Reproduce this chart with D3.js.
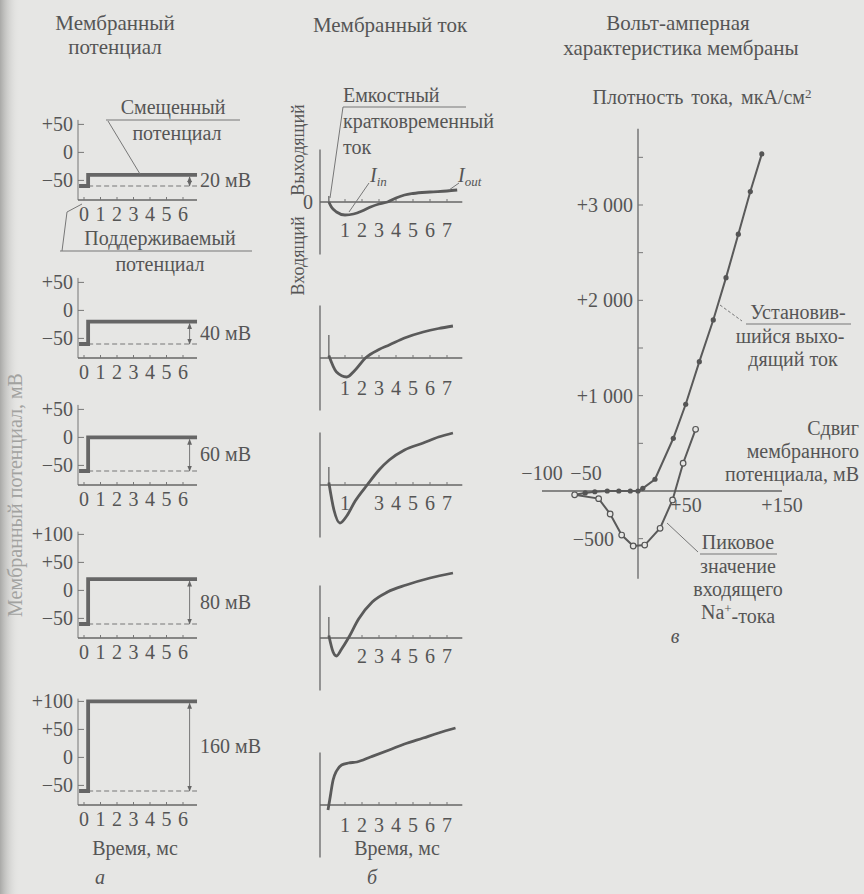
<!DOCTYPE html>
<html>
<head>
<meta charset="utf-8"/>
<style>
  body{margin:0;background:#e6e6e4;}
  svg{display:block;}
  text{font-family:"Liberation Serif","DejaVu Serif",serif;fill:#555;font-size:20px;}
  .tk{font-size:20px;}
  .ttl{font-size:21px;}
  .ax{stroke:#666;stroke-width:1.3;fill:none;}
  .thin{stroke:#777;stroke-width:1;fill:none;}
  .thick{stroke:#666;stroke-width:3.8;fill:none;}
  .curve{stroke:#5a5a5a;stroke-width:2.8;fill:none;}
  .dash{stroke:#777;stroke-width:1.1;stroke-dasharray:5,3;fill:none;}
  .lead{stroke:#777;stroke-width:1;fill:none;}
  .it{font-style:italic;}
</style>
</head>
<body>
<svg id="fig" width="864" height="894"></svg>
<script src="https://d3js.org/d3.v7.min.js"></script>
<script>
// ---- data: voltage clamp steps (column a)
const timeTicks = [0,1,2,3,4,5,6];
const holdingMV = -60;
const stepMV = [20,40,60,80,160];
const potTicks = [[50,0,-50],[50,0,-50],[50,0,-50],[100,50,0,-50],[100,50,0,-50]];

// ---- data: membrane currents, [ms, relative current] (column b)
const curTimeTicks = [[1,2,3,4,5,6,7],[1,2,3,4,5,6,7],[1,3,4,5,6,7],[2,3,4,5,6,7],[1,2,3,4,5,6,7]];
const capSpike = [0.12,0.46,0.36,0.42,0];
const cur20  = [[0.05,0],[0.2,-0.1],[0.5,-0.2],[1,-0.26],[1.5,-0.24],[2,-0.18],[2.5,-0.1],[3,-0.04],[3.5,0],[4,0.08],[4.5,0.14],[5,0.17],[6,0.2],[7,0.22],[7.6,0.24]];
const cur40  = [[0.05,0.05],[0.5,-0.28],[1.1,-0.38],[1.6,-0.24],[2.2,0],[3,0.17],[3.6,0.26],[4.5,0.4],[5.6,0.52],[6.5,0.59],[7.35,0.64]];
const cur60  = [[0.05,0.05],[0.35,-0.5],[0.7,-0.76],[1.1,-0.62],[1.6,-0.32],[2.3,0],[3,0.3],[3.6,0.5],[4.5,0.7],[5.6,0.84],[6.5,0.96],[7.35,1.04]];
const cur80  = [[0.05,0.05],[0.3,-0.28],[0.5,-0.36],[0.8,-0.22],[1.2,0],[1.8,0.38],[2.6,0.72],[3.5,0.92],[4.6,1.06],[6,1.2],[7.35,1.3]];
const cur160 = [[0,-0.1],[0.1,0.1],[0.3,0.5],[0.5,0.68],[0.8,0.8],[1.2,0.84],[1.7,0.86],[2.5,0.96],[3.6,1.1],[4.5,1.22],[5.6,1.34],[6.5,1.44],[7.5,1.54]];
const currents = [cur20,cur40,cur60,cur80,cur160];

// ---- data: I-V relation, [mV shift, µA/cm2] (column c)
const steadyOut = [[-66,-40],[-55,-20],[-45,-8],[-32,0],[-20,0],[-8,0],[0,0],[5,28],[17.7,123],[36.8,553],[49.7,910],[63.9,1357],[78.4,1794],[91.7,2238],[104.5,2694],[117,3141],[129,3536]];
const peakIn = [[-66,-40],[-41,-80],[-29,-241],[-17,-462],[-5,-577],[7,-567],[23,-391],[36,-94],[47,291],[60,647]];
const ivYTicks = [3000,2000,1000,-500];
const ivYMinor = [-500,0,500,1000,1500,2000,2500,3000,3500];
const ivXNeg = [-100,-50];
const ivXPos = [50,150];

const svg = d3.select('#fig');
const defs = svg.append('defs');
const grad = defs.append('linearGradient').attr('id','shade');
grad.append('stop').attr('offset','0').attr('stop-color','#a9a9a7');
grad.append('stop').attr('offset','1').attr('stop-color','#e6e6e4').attr('stop-opacity',0);
defs.append('marker').attr('id','arr').attr('viewBox','0 0 10 10').attr('refX',9).attr('refY',5)
  .attr('markerWidth',6).attr('markerHeight',6).attr('orient','auto-start-reverse')
  .append('path').attr('d','M0,1 L10,5 L0,9 z').attr('fill','#666');

svg.append('rect').attr('width',864).attr('height',894).attr('fill','#e6e6e4');
svg.append('rect').attr('width',20).attr('height',894).attr('fill','url(#shade)');

const fmt = v => v > 0 ? '+' + v : (v < 0 ? '\u2212' + Math.abs(v) : '0');
function txt(g, x, y, s, anchor, cls){
  return g.append('text').attr('x',x).attr('y',y).attr('dy','0.35em')
    .attr('text-anchor',anchor || 'middle').attr('class',cls || null).text(s);
}

// ================= column a: membrane potential
const colA = svg.append('g');
txt(colA,115,23,'Мембранный','middle','ttl');
txt(colA,115,47,'потенциал','middle','ttl');
const potBottom = [200,358,485,638,805];
const potTop = [58,58,58,105,105];
const xT = d3.scaleLinear().domain([0,6]).range([84,183]);
stepMV.forEach(function(dv,i){
  const y = d3.scaleLinear().domain([-85,0]).range([potBottom[i], potBottom[i]-47.6]);
  const g = colA.append('g');
  const line = d3.line().x(d => xT(d[0])).y(d => y(d[1]));
  g.append('line').attr('class','thin').attr('x1',78).attr('x2',78).attr('y1',y(-85)).attr('y2',y(potTop[i]));
  g.append('line').attr('class','ax').attr('x1',78).attr('x2',197).attr('y1',y(-85)).attr('y2',y(-85));
  potTicks[i].forEach(function(v){
    g.append('line').attr('class','thin').attr('x1',78).attr('x2',84).attr('y1',y(v)).attr('y2',y(v));
    txt(g,73,y(v),fmt(v),'end','tk');
  });
  timeTicks.forEach(function(t){
    g.append('line').attr('class','thin').attr('x1',xT(t)).attr('x2',xT(t)).attr('y1',y(-85)).attr('y2',y(-85)-3);
    txt(g,xT(t),y(-85)+14,t,'middle','tk');
  });
  const level = holdingMV + dv;
  g.append('path').attr('class','dash').attr('d',line([[0.25,holdingMV],[6.85,holdingMV]]));
  g.append('path').attr('class','thick').attr('d',line([[-0.3,holdingMV],[0.25,holdingMV],[0.25,level],[6.85,level]]));
  g.append('line').attr('class','lead').attr('x1',xT(6.4)).attr('x2',xT(6.4))
    .attr('y1',y(holdingMV)).attr('y2',y(level)+2)
    .attr('marker-start','url(#arr)').attr('marker-end','url(#arr)');
  txt(g,200,(y(holdingMV)+y(level))/2,dv + ' мВ','start');
});
// annotations on first panel
txt(colA,173,107,'Смещенный');
colA.append('line').attr('class','lead').attr('x1',106).attr('x2',240).attr('y1',120).attr('y2',120);
txt(colA,177,133,'потенциал');
colA.append('path').attr('class','lead').attr('d','M108,121 L140,174');
txt(colA,160,238,'Поддерживаемый');
colA.append('line').attr('class','lead').attr('x1',60).attr('x2',252).attr('y1',251).attr('y2',251);
txt(colA,160,264,'потенциал');
colA.append('path').attr('class','lead').attr('d','M82,204 L67,212 L62,251');
txt(colA,135,848,'Время,  мс');
txt(colA,100,877,'а','middle','it');
txt(colA,15,495,'Мембранный потенциал, мВ').attr('transform','rotate(-90,15,495)').style('fill','#a2a2a0');

// ================= column b: membrane current
const colB = svg.append('g');
txt(colB,390,25,'Мембранный ток','middle','ttl');
const curZero = [202,358,485,638,805];
const curLabelGap = [28,30,18,18,20];
const xC = d3.scaleLinear().domain([0,7]).range([328,447]);
currents.forEach(function(data,i){
  const z = curZero[i];
  const y = d3.scaleLinear().domain([-1,1]).range([z+50, z-50]);
  const g = colB.append('g');
  g.append('line').attr('class','ax').attr('x1',320).attr('x2',320).attr('y1',y(-1.05)).attr('y2',y(1.05));
  g.append('line').attr('class','ax').attr('x1',320).attr('x2',xC(7.9)).attr('y1',z).attr('y2',z);
  curTimeTicks[i].forEach(function(t){
    g.append('line').attr('class','thin').attr('x1',xC(t)).attr('x2',xC(t)).attr('y1',z).attr('y2',z-3);
    txt(g,xC(t),z+curLabelGap[i],t,'middle','tk');
  });
  if (capSpike[i] > 0) {
    g.append('line').attr('class','ax').attr('x1',xC(0.05)).attr('x2',xC(0.05)).attr('y1',z).attr('y2',y(capSpike[i]));
  }
  g.append('path').attr('class','curve')
    .attr('d',d3.line().curve(d3.curveMonotoneX).x(d => xC(d[0])).y(d => y(d[1]))(data));
});
txt(colB,313,202,'0','end','tk');
txt(colB,298,150,'Выходящий').attr('transform','rotate(-90,298,150)').style('font-size','18px');
txt(colB,298,256,'Входящий').attr('transform','rotate(-90,298,256)').style('font-size','18px');
txt(colB,343,95,'Емкостный','start');
colB.append('line').attr('class','lead').attr('x1',343).attr('x2',466).attr('y1',107).attr('y2',107);
txt(colB,343,121,'кратковременный','start');
txt(colB,343,147,'ток','start');
colB.append('path').attr('class','lead').attr('d','M343,107 L330,198');
txt(colB,370,175,'I','start','it').append('tspan').attr('dy','0.3em').style('font-size','13px').text('in');
txt(colB,458,175,'I','start','it').append('tspan').attr('dy','0.3em').style('font-size','13px').text('out');
colB.append('path').attr('class','lead').attr('d','M369,183 L349,212');
colB.append('path').attr('class','lead').attr('d','M459,183 L449,190');
txt(colB,397,848,'Время,  мс');
txt(colB,372,877,'б','middle','it');

// ================= column c: current-voltage relation
const colC = svg.append('g');
txt(colC,678,23,'Вольт-амперная','middle','ttl');
txt(colC,681,48,'характеристика мембраны','middle','ttl');
txt(colC,702,97,'Плотность тока,  мкА/см').style('word-spacing','3px')
  .append('tspan').attr('dy','-0.5em').style('font-size','13px').text('2');
const xV = d3.scaleLinear().domain([0,150]).range([638,782]);
const yV = d3.scaleLinear().domain([0,3000]).range([491,205]);
colC.append('line').attr('class','ax').attr('x1',xV(0)).attr('x2',xV(0)).attr('y1',yV(-920)).attr('y2',yV(3800));
colC.append('line').attr('class','ax').attr('x1',xV(-100)).attr('x2',xV(150)).attr('y1',yV(0)).attr('y2',yV(0));
ivYMinor.forEach(function(v){
  colC.append('line').attr('class','thin').attr('x1',xV(0)).attr('x2',xV(0)+5).attr('y1',yV(v)).attr('y2',yV(v));
});
ivYTicks.forEach(function(v){ txt(colC, v > 0 ? 633 : 614, yV(v), fmt(v).replace(/(\d)(\d{3})$/,'$1 $2'), 'end','tk'); });
ivXNeg.forEach(function(v){ txt(colC,xV(v) + (v === -100 ? 0 : -4),yV(0)-18,fmt(v),'middle','tk'); });
ivXPos.forEach(function(v){ txt(colC,xV(v),yV(0)+14,fmt(v),'middle','tk'); });
const lineV = d3.line().x(d => xV(d[0])).y(d => yV(d[1]));
colC.append('path').attr('class','curve').style('stroke-width',2).attr('d',lineV(steadyOut));
colC.append('path').attr('class','curve').style('stroke-width',2).attr('d',lineV(peakIn));
colC.selectAll('.dotOut').data(steadyOut).enter().append('circle')
  .attr('cx',d => xV(d[0])).attr('cy',d => yV(d[1])).attr('r',2.6).attr('fill','#555');
colC.selectAll('.dotIn').data(peakIn).enter().append('circle')
  .attr('cx',d => xV(d[0])).attr('cy',d => yV(d[1])).attr('r',2.8)
  .attr('fill','#e6e6e4').attr('stroke','#555').attr('stroke-width',1.2);
txt(colC,798,312,'Установив-');
colC.append('line').attr('class','lead').attr('x1',746).attr('x2',851).attr('y1',324).attr('y2',324);
txt(colC,790,336,'шийся выхо-');
txt(colC,793,359,'дящий ток');
colC.append('path').attr('class','lead').style('stroke-dasharray','3,2').attr('d','M720,305 L742,321');
txt(colC,859,428,'Сдвиг','end');
txt(colC,859,451,'мембранного','end');
txt(colC,859,474,'потенциала,  мВ','end');
txt(colC,738,542,'Пиковое');
colC.append('line').attr('class','lead').attr('x1',700).attr('x2',777).attr('y1',554).attr('y2',554);
txt(colC,738,566,'значение');
txt(colC,738,589,'входящего');
const na = txt(colC,738,612,'Na');
na.append('tspan').attr('dy','-0.5em').style('font-size','13px').text('+');
na.append('tspan').attr('dy','0.5em').text('-тока');
colC.append('path').attr('class','lead').attr('d','M667,523 L698,552');
txt(colC,675,636,'в','middle','it');
</script>
</body>
</html>
